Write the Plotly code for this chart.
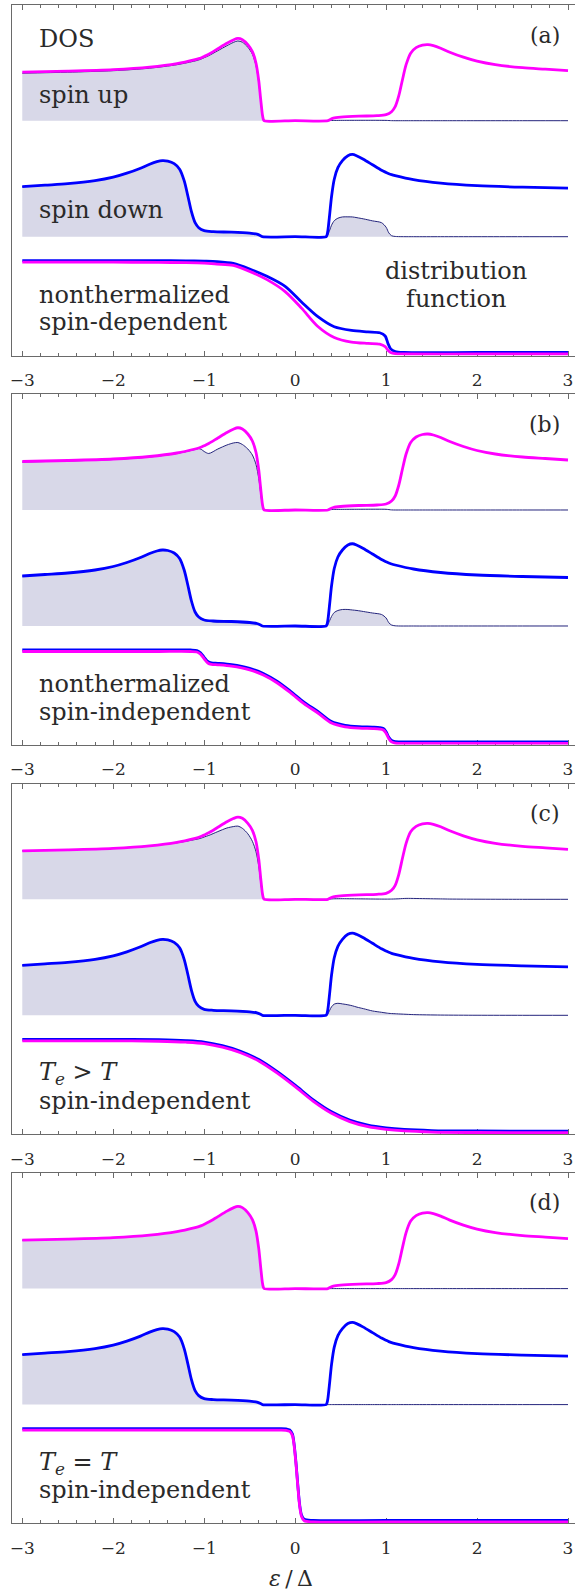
import plotly.graph_objects as go

# ---------------- data ----------------
# energy grid and density of states, spin up (magenta)
E_UP = [-3.0, -2.5, -2.0, -1.6, -1.3, -1.1, -1.06, -1.03, -1.0, -0.95, -0.85, -0.75, -0.68, -0.63,
        -0.58, -0.52, -0.47, -0.43, -0.40, -0.38, -0.36, -0.35, -0.34, 0.0, 0.36, 0.38, 0.42, 0.5,
        0.7, 0.9, 1.0, 1.06, 1.1, 1.14, 1.18, 1.22, 1.27, 1.33, 1.4, 1.46, 1.52, 1.6, 1.7, 1.85,
        2.0, 2.2, 2.5, 2.75, 3.0]
DOS_UP = [0.97, 0.99, 1.02, 1.07, 1.14, 1.22, 1.24, 1.26, 1.285, 1.33, 1.44, 1.55, 1.615, 1.645,
          1.62, 1.52, 1.38, 1.15, 0.80, 0.45, 0.12, 0.03, 0.0, 0.0, 0.0, 0.02, 0.05, 0.07,
          0.09, 0.10, 0.12, 0.18, 0.28, 0.50, 0.82, 1.12, 1.35, 1.46, 1.51, 1.52, 1.50, 1.45, 1.37, 1.27,
          1.19, 1.12, 1.06, 1.03, 1.0]

# energy grid and density of states, spin down (blue)
E_DN = [-3.0, -2.75, -2.5, -2.2, -2.0, -1.85, -1.7, -1.6, -1.52, -1.46, -1.4, -1.33, -1.27, -1.22,
        -1.18, -1.14, -1.1, -1.06, -1.0, -0.9, -0.7, -0.5, -0.42, -0.38, -0.36, 0.0, 0.34, 0.35,
        0.36, 0.38, 0.40, 0.43, 0.47, 0.52, 0.58, 0.63, 0.68, 0.75, 0.85, 0.95, 1.0, 1.03, 1.06,
        1.1, 1.3, 1.6, 2.0, 2.5, 3.0]
DOS_DN = [1.0, 1.03, 1.06, 1.12, 1.19, 1.27, 1.37, 1.45, 1.50, 1.52, 1.51, 1.46, 1.35, 1.12,
          0.82, 0.50, 0.28, 0.18, 0.12, 0.10, 0.09, 0.07, 0.05, 0.02, 0.0, 0.0, 0.0, 0.03,
          0.12, 0.45, 0.80, 1.15, 1.38, 1.52, 1.62, 1.645, 1.615, 1.55, 1.44, 1.33, 1.285, 1.26, 1.24,
          1.22, 1.14, 1.07, 1.02, 0.99, 0.97]

# occupied states (shaded), spin up, panels a-d (on E_UP)
OCC_UP_A = [0.95, 0.97, 1.0, 1.05, 1.12, 1.195, 1.215, 1.235, 1.26, 1.30, 1.40, 1.50, 1.565, 1.595,
            1.57, 1.47, 1.33, 1.10, 0.76, 0.42, 0.11, 0.03, 0.0, 0.0, 0.0, 0.002, 0.005, 0.007,
            0.008, 0.008, 0.006, 0.001, 0.0, 0.0, 0.0, 0.0, 0.0, 0.0, 0.0, 0.0, 0.0, 0.0, 0.0, 0.0,
            0.0, 0.0, 0.0, 0.0, 0.0]
OCC_UP_B = [0.96, 0.98, 1.01, 1.06, 1.13, 1.21, 1.23, 1.21, 1.17, 1.13, 1.22, 1.30, 1.34, 1.35,
            1.31, 1.22, 1.10, 0.91, 0.63, 0.35, 0.09, 0.02, 0.0, 0.0, 0.0, 0.005, 0.011, 0.013,
            0.015, 0.016, 0.014, 0.002, 0.0, 0.0, 0.0, 0.0, 0.0, 0.0, 0.0, 0.0, 0.0, 0.0, 0.0, 0.0,
            0.0, 0.0, 0.0, 0.0, 0.0]
OCC_UP_C = [0.97, 0.99, 1.02, 1.07, 1.13, 1.195, 1.21, 1.225, 1.246, 1.277, 1.354, 1.426, 1.454, 1.464,
            1.42, 1.31, 1.16, 0.95, 0.66, 0.36, 0.10, 0.02, 0.0, 0.0, 0.0, 0.005, 0.01, 0.012,
            0.009, 0.005, 0.004, 0.005, 0.007, 0.01, 0.015, 0.018, 0.018, 0.016, 0.014, 0.012, 0.01,
            0.008, 0.005, 0.003, 0.002, 0.001, 0.0, 0.0, 0.0]
OCC_UP_D = [0.97, 0.99, 1.02, 1.07, 1.14, 1.22, 1.24, 1.26, 1.285, 1.33, 1.44, 1.55, 1.615, 1.645,
            1.62, 1.52, 1.38, 1.15, 0.80, 0.45, 0.12, 0.03, 0.0, 0.0, 0.0, 0.0, 0.0, 0.0,
            0.0, 0.0, 0.0, 0.0, 0.0, 0.0, 0.0, 0.0, 0.0, 0.0, 0.0, 0.0, 0.0, 0.0, 0.0, 0.0,
            0.0, 0.0, 0.0, 0.0, 0.0]

# occupied states (shaded), spin down, panels a-d (on E_DN)
OCC_DN_A = [1.0, 1.03, 1.06, 1.12, 1.19, 1.27, 1.37, 1.45, 1.50, 1.52, 1.51, 1.46, 1.35, 1.12,
            0.82, 0.50, 0.28, 0.18, 0.12, 0.10, 0.087, 0.064, 0.044, 0.017, 0.0, 0.0, 0.0, 0.009,
            0.036, 0.13, 0.23, 0.32, 0.37, 0.395, 0.397, 0.395, 0.38, 0.357, 0.317, 0.28, 0.19, 0.076,
            0.02, 0.005, 0.0, 0.0, 0.0, 0.0, 0.0]
OCC_DN_B = [1.0, 1.03, 1.06, 1.12, 1.19, 1.27, 1.37, 1.45, 1.50, 1.52, 1.51, 1.46, 1.35, 1.12,
            0.82, 0.50, 0.28, 0.178, 0.11, 0.086, 0.075, 0.056, 0.04, 0.016, 0.0, 0.0, 0.0, 0.008,
            0.03, 0.11, 0.19, 0.27, 0.31, 0.33, 0.33, 0.32, 0.31, 0.29, 0.26, 0.23, 0.16, 0.065,
            0.02, 0.004, 0.0, 0.0, 0.0, 0.0, 0.0]
OCC_DN_C = [1.0, 1.03, 1.06, 1.12, 1.19, 1.27, 1.37, 1.45, 1.50, 1.51, 1.50, 1.45, 1.34, 1.11,
            0.81, 0.495, 0.277, 0.178, 0.116, 0.095, 0.081, 0.06, 0.042, 0.016, 0.0, 0.0, 0.0, 0.007,
            0.028, 0.10, 0.17, 0.224, 0.24, 0.228, 0.21, 0.19, 0.163, 0.133, 0.087, 0.06, 0.046, 0.039,
            0.035, 0.031, 0.014, 0.005, 0.001, 0.0, 0.0]
OCC_DN_D = [1.0, 1.03, 1.06, 1.12, 1.19, 1.27, 1.37, 1.45, 1.50, 1.52, 1.51, 1.46, 1.35, 1.12,
            0.82, 0.50, 0.28, 0.18, 0.12, 0.10, 0.09, 0.07, 0.05, 0.02, 0.0, 0.0, 0.0, 0.0,
            0.0, 0.0, 0.0, 0.0, 0.0, 0.0, 0.0, 0.0, 0.0, 0.0, 0.0, 0.0, 0.0, 0.0,
            0.0, 0.0, 0.0, 0.0, 0.0, 0.0, 0.0]

# distribution functions
E_F_A = [-3.0, -2.0, -1.5, -1.2, -1.0, -0.86, -0.68, -0.5, -0.31, -0.11, 0.07, 0.25, 0.43, 0.62,
         0.8, 0.93, 0.99, 1.02, 1.05, 1.1, 1.2, 2.0, 3.0]
F_DN_A = [1.0, 1.0, 1.0, 0.998, 0.995, 0.99, 0.97, 0.91, 0.83, 0.72, 0.55, 0.39, 0.28, 0.24,
          0.225, 0.215, 0.18, 0.10, 0.04, 0.01, 0.0, 0.0, 0.0]
F_UP_A = [1.0, 1.0, 0.998, 0.995, 0.99, 0.98, 0.965, 0.90, 0.81, 0.68, 0.50, 0.30, 0.18, 0.13,
          0.115, 0.107, 0.08, 0.04, 0.015, 0.003, 0.0, 0.0, 0.0]

E_F_B = [-3.0, -2.0, -1.5, -1.15, -1.08, -1.04, -1.0, -0.96, -0.92, -0.85, -0.7, -0.5, -0.35,
         -0.2, -0.05, 0.1, 0.25, 0.4, 0.55, 0.7, 0.85, 0.93, 0.97, 1.0, 1.03, 1.06, 1.1, 1.3, 2.0, 3.0]
F_B = [1.0, 1.0, 1.0, 1.0, 0.995, 0.97, 0.92, 0.875, 0.86, 0.855, 0.84, 0.80, 0.745,
       0.66, 0.55, 0.43, 0.33, 0.22, 0.18, 0.165, 0.16, 0.155, 0.145, 0.11, 0.05, 0.015, 0.003,
       0.0, 0.0, 0.0]

E_F_C = [-3.0, -2.0, -1.5, -1.2, -1.0, -0.8, -0.6, -0.4, -0.2, 0.0, 0.2, 0.4, 0.6, 0.8, 1.0,
         1.2, 1.5, 2.0, 3.0]
F_C = [1.0, 1.0, 0.995, 0.985, 0.97, 0.93, 0.87, 0.78, 0.65, 0.5, 0.34, 0.21, 0.12, 0.065, 0.035,
       0.018, 0.006, 0.001, 0.0]

E_F_D = [-3.0, -1.0, -0.2, -0.1, -0.06, -0.03, -0.01, 0.01, 0.03, 0.05, 0.07, 0.1, 0.2, 1.0, 3.0]
F_D = [1.0, 1.0, 1.0, 0.998, 0.985, 0.94, 0.82, 0.62, 0.38, 0.17, 0.06, 0.012, 0.0, 0.0, 0.0]

PANEL_TAGS = ["(a)", "(b)", "(c)", "(d)"]
PANEL_TEXT = [
    ["nonthermalized", "spin-dependent"],
    ["nonthermalized", "spin-independent"],
    ["<i>T</i><sub><i>e</i></sub> &gt; <i>T</i>", "spin-independent"],
    ["<i>T</i><sub><i>e</i></sub> = <i>T</i>", "spin-independent"],
]
X_TITLE = "<i>ε</i>\u2009/\u2009Δ"

PANELS = [
    (OCC_UP_A, OCC_DN_A, E_F_A, F_DN_A, F_UP_A),
    (OCC_UP_B, OCC_DN_B, E_F_B, F_B, F_B),
    (OCC_UP_C, OCC_DN_C, E_F_C, F_C, F_C),
    (OCC_UP_D, OCC_DN_D, E_F_D, F_D, F_D),
]

# ---------------- layout geometry / styles ----------------
W, H = 575, 1593
ML = 12
PLOT_W = W - ML
X_RANGE = [-3.113, 3.077]
TOPS = [5.0, 394.3, 783.6, 1172.9]
PH = 350.5
DOS_SCALE = 50.0      # px per DOS unit
F_SCALE = 91.8        # px per unit of f

MAGENTA = "#ff00ff"
BLUE = "#0000ff"
NAVY = "#24247c"
LAV = "#d8d8e8"
FRAME = "#6a6a6a"
TXT = "#2a2a2a"
FONT = "DejaVu Serif"
TEXT_SIZE = 24


def fy(px):
    return 1 - px / H


def fx(px):
    return (px - ML) / PLOT_W


def yrange(dom_top, dom_bot, zero, scale):
    return [-(dom_bot - zero) / scale, (zero - dom_top) / scale]


def aname(prefix, i):
    return prefix if i == 1 else f"{prefix}{i}"


fig = go.Figure()
layout = {}
annotations = []

spline = dict(shape="spline", smoothing=0.8)

for k, top in enumerate(TOPS):
    occ_up, occ_dn, ef, fdn, fup = PANELS[k]
    xi = k + 1
    xn = aname("x", xi)
    F, U, D, B, M = [5 * k + j for j in range(1, 6)]

    layout[aname("yaxis", F)] = dict(domain=[fy(top + PH), fy(top)], range=[0, 1], showline=True,
                                     linecolor=FRAME, linewidth=1, showgrid=False, zeroline=False,
                                     showticklabels=False, ticks="", anchor=xn, fixedrange=True)
    layout[aname("yaxis", U)] = dict(domain=[fy(top + 125), fy(top)],
                                     range=yrange(top, top + 125, top + 115.7, DOS_SCALE),
                                     visible=False, anchor=xn, fixedrange=True)
    layout[aname("yaxis", D)] = dict(domain=[fy(top + 245), fy(top + 125)],
                                     range=yrange(top + 125, top + 245, top + 231.7, DOS_SCALE),
                                     visible=False, anchor=xn, fixedrange=True)
    layout[aname("yaxis", B)] = dict(domain=[fy(top + PH), fy(top + 245)],
                                     range=yrange(top + 245, top + PH, top + 347.5, F_SCALE),
                                     visible=False, anchor=xn, fixedrange=True)
    layout[aname("yaxis", M)] = dict(overlaying=aname("y", B),
                                     range=yrange(top + 245, top + PH, top + 349.0, F_SCALE),
                                     visible=False, anchor=xn, fixedrange=True)
    layout[aname("xaxis", xi)] = dict(
        domain=[0, 1], range=X_RANGE, anchor=aname("y", F), side="bottom",
        showline=True, linecolor=FRAME, linewidth=1, mirror="ticks",
        ticks="inside", ticklen=5, tickwidth=1, tickcolor=FRAME, dtick=1, tick0=0,
        minor=dict(dtick=0.2, tick0=0, ticks="inside", ticklen=3, tickwidth=1,
                   tickcolor=FRAME, showgrid=False),
        showgrid=False, zeroline=False,
        tickfont=dict(family=FONT, size=17, color=TXT), ticklabelstandoff=9,
        fixedrange=True)

    yf, yu, yd, yb, ym = aname("y", F), aname("y", U), aname("y", D), aname("y", B), aname("y", M)

    # invisible anchor trace so the framing subplot exists
    fig.add_trace(go.Scatter(x=[E_UP[0]], y=[0.5], mode="markers", marker=dict(opacity=0, size=1),
                             xaxis=xn, yaxis=yf, hoverinfo="skip", showlegend=False))

    fig.add_trace(go.Scatter(x=E_UP, y=occ_up, mode="lines", line=dict(color=NAVY, width=1, **spline),
                             fill="tozeroy", fillcolor=LAV, xaxis=xn, yaxis=yu,
                             hoverinfo="skip", showlegend=False))
    fig.add_trace(go.Scatter(x=E_UP, y=DOS_UP, mode="lines", line=dict(color=MAGENTA, width=2.8, **spline),
                             xaxis=xn, yaxis=yu, hoverinfo="skip", showlegend=False))
    fig.add_trace(go.Scatter(x=E_DN, y=occ_dn, mode="lines", line=dict(color=NAVY, width=1, **spline),
                             fill="tozeroy", fillcolor=LAV, xaxis=xn, yaxis=yd,
                             hoverinfo="skip", showlegend=False))
    fig.add_trace(go.Scatter(x=E_DN, y=DOS_DN, mode="lines", line=dict(color=BLUE, width=2.8, **spline),
                             xaxis=xn, yaxis=yd, hoverinfo="skip", showlegend=False))
    fig.add_trace(go.Scatter(x=ef, y=fdn, mode="lines", line=dict(color=BLUE, width=2.8, **spline),
                             xaxis=xn, yaxis=yb, hoverinfo="skip", showlegend=False))
    fig.add_trace(go.Scatter(x=ef, y=fup, mode="lines", line=dict(color=MAGENTA, width=2.8, **spline),
                             xaxis=xn, yaxis=ym, hoverinfo="skip", showlegend=False))

    # panel tag
    annotations.append(dict(text=PANEL_TAGS[k], xref="paper", yref="paper", x=fx(562), y=fy(top + 30),
                            xanchor="right", yanchor="middle", showarrow=False,
                            font=dict(family=FONT, size=22, color=TXT)))
    # two-line panel label
    for line, base in zip(PANEL_TEXT[k], [298.5, 325.5]):
        annotations.append(dict(text=line, xref="paper", yref="paper", x=fx(37),
                                y=fy(top + base - 8.3), xanchor="left", yanchor="middle",
                                showarrow=False, font=dict(family=FONT, size=TEXT_SIZE, color=TXT)))

# extra labels in panel (a)
for txt, xpx, base, anc in [("DOS", 37, 47.7, "left"), ("spin up", 37, 103.7, "left"),
                            ("spin down", 37, 218.7, "left"), ("distribution", 456, 279.3, "center"),
                            ("function", 456, 307.7, "center")]:
    annotations.append(dict(text=txt, xref="paper", yref="paper", x=fx(xpx), y=fy(base - 8.3),
                            xanchor=anc, yanchor="middle", showarrow=False,
                            font=dict(family=FONT, size=TEXT_SIZE, color=TXT)))

annotations.append(dict(text=X_TITLE, xref="paper", yref="paper", x=fx(291), y=fy(1578),
                        xanchor="center", yanchor="middle", showarrow=False,
                        font=dict(family=FONT, size=22, color=TXT)))

fig.update_layout(**layout)
fig.update_layout(width=W, height=H, autosize=False,
                  margin=dict(l=ML, r=0, t=0, b=0),
                  paper_bgcolor="white", plot_bgcolor="rgba(0,0,0,0)",
                  annotations=annotations, showlegend=False)

fig.write_html("out.html", config={"displayModeBar": False},
               post_script="document.body.style.margin='0';")
